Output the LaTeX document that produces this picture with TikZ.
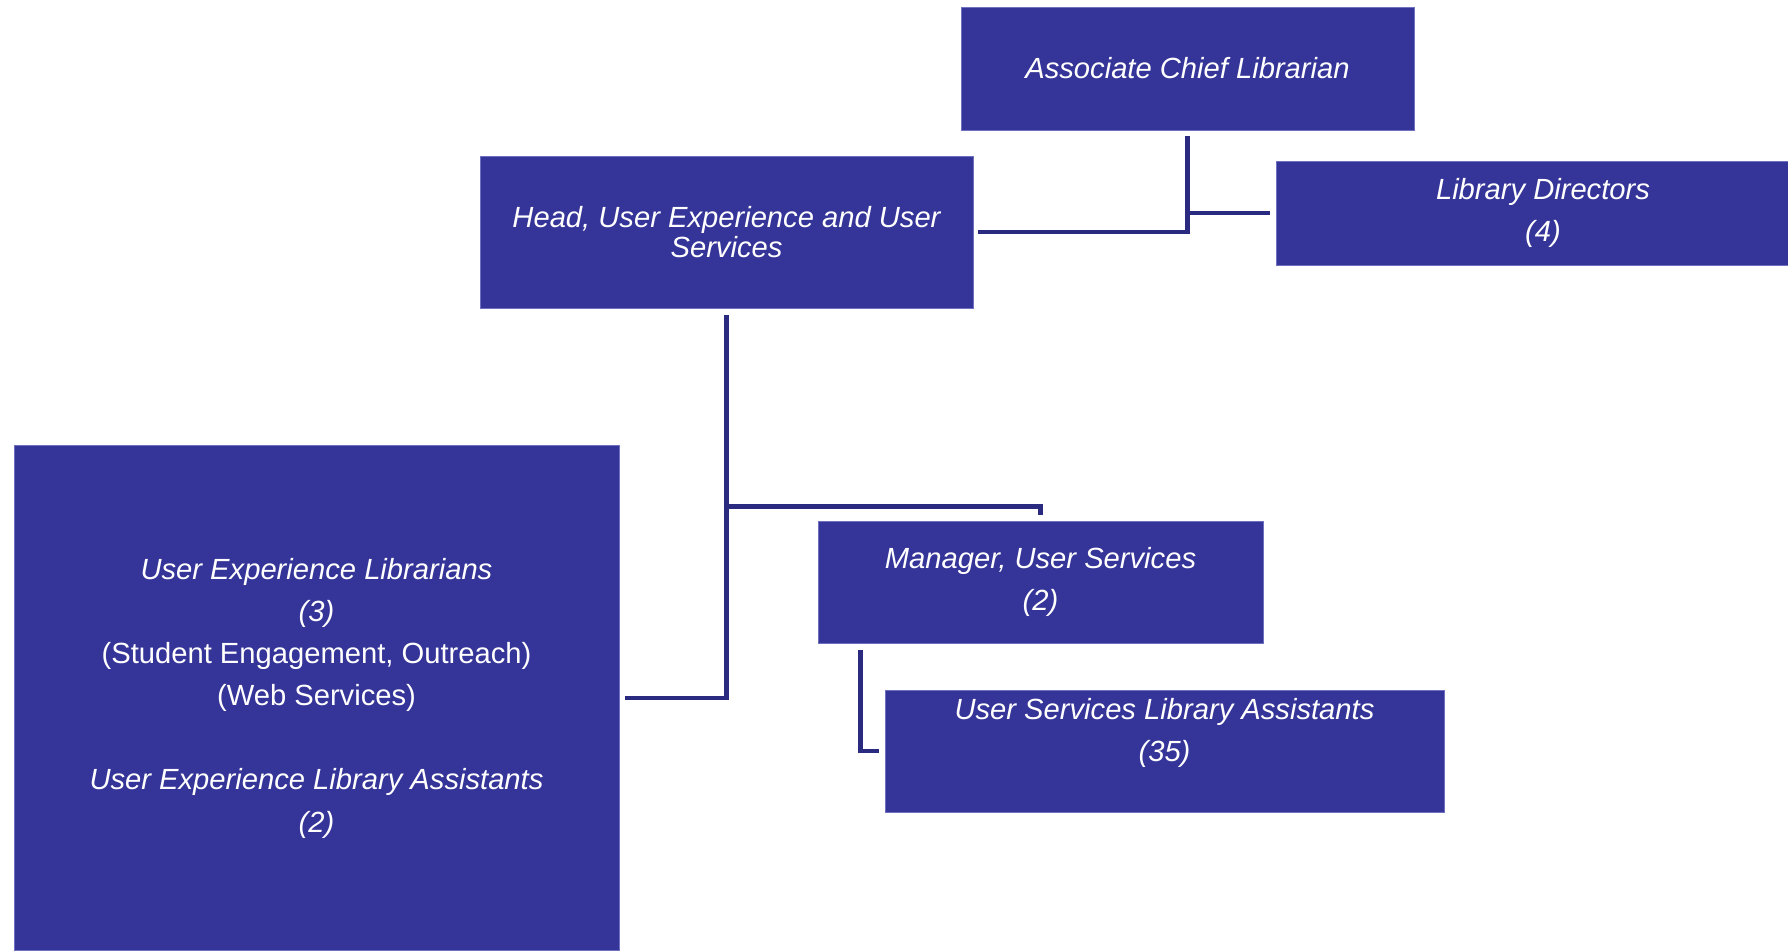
\documentclass[tikz,border=0pt]{standalone}
\usepackage{fontspec}
\setmainfont{Liberation Sans}
\definecolor{boxblue}{RGB}{53,52,152}
\definecolor{boxedge}{RGB}{112,112,192}
\definecolor{linkblue}{RGB}{42,42,128}

\begin{document}
\begin{tikzpicture}[
    orgbox/.style={fill=boxblue, draw=boxedge, line width=0.5pt, text=white, align=center,
        inner sep=0pt, font=\fontsize{16.6pt}{24pt}\selectfont\itshape},
    link/.style={draw=linkblue, line width=2.8pt}
]
    \useasboundingbox (0,0) rectangle (35.76,-19.02);

    % Associate Chief Librarian
    \node[orgbox, minimum width=9.06cm, minimum height=2.46cm] (acl) at (23.75,-1.37) {Associate Chief Librarian};

    % Library Directors
    \node[orgbox, minimum width=10.68cm, minimum height=2.08cm] (dirs) at (30.86,-4.26) {Library Directors\\(4)};

    % Head of the department
    \node[orgbox, minimum width=9.86cm, minimum height=3.04cm,
        font=\fontsize{16.6pt}{17pt}\selectfont\itshape] (head) at (14.53,-4.64) {Head, User Experience and User\\Services};

    % User Experience team
    \node[orgbox, minimum width=12.10cm, minimum height=10.10cm] (ux) at (6.33,-13.96)
        {User Experience Librarians\\(3)\\{\upshape (Student Engagement, Outreach)}\\{\upshape (Web Services)}\\[24pt]User Experience Library Assistants\\(2)};

    % Manager and assistants
    \node[orgbox, minimum width=8.90cm, minimum height=2.44cm] (mgr) at (20.81,-11.64) {Manager, User Services\\(2)};
    \node[orgbox, minimum width=11.18cm, minimum height=2.44cm] (usla) at (23.29,-15.02) {User Services Library Assistants\\(35)\\\mbox{}};

    % Connectors
    \draw[link, shorten <=0.1cm, shorten >=0.12cm] (head.east) -| (acl.south);
    \draw[link, shorten <=0.12cm, shorten >=0.12cm] (acl.south) |- (dirs.west);
    \draw[link, shorten <=0.14cm, shorten >=0.12cm] (head.south) |- (ux.east);
    \coordinate (fork) at ([yshift=0.28cm]mgr.north -| head.south);
    \draw[link, shorten >=0.12cm] (fork) -| (mgr.north);
    \draw[link, shorten <=0.14cm, shorten >=0.12cm] ([xshift=0.86cm]mgr.south west) |- (usla.west);
\end{tikzpicture}
\end{document}
